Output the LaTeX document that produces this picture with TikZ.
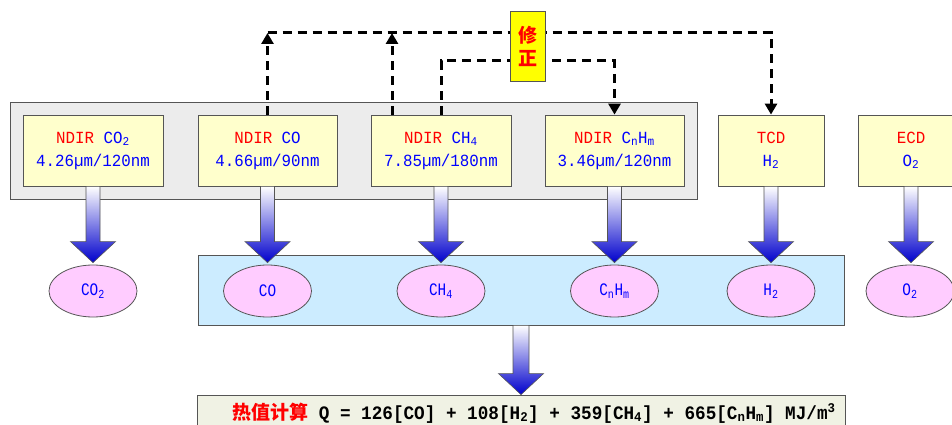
\documentclass[tikz,border=0pt]{standalone}
\usepackage{fontspec}
\setmainfont{Liberation Sans}
\newfontfamily\mono[FakeStretch=0.93]{Liberation Mono}
\newfontfamily\monon[FakeStretch=0.82]{Liberation Mono}
\newfontfamily\cjk{Noto Sans CJK SC}
\usetikzlibrary{arrows.meta,calc,shapes.geometric}
\definecolor{boxyellow}{RGB}{255,255,204}
\definecolor{panelgray}{RGB}{236,236,236}
\definecolor{lightblue}{RGB}{204,236,255}
\definecolor{pinkfill}{RGB}{255,204,255}
\definecolor{bottomfill}{RGB}{240,242,228}
\definecolor{arrowblue}{RGB}{0,0,204}
\definecolor{edgegray}{RGB}{85,85,85}
\definecolor{txtblue}{RGB}{0,0,255}
\definecolor{txtred}{RGB}{255,0,0}
\definecolor{fixyellow}{RGB}{255,255,0}
\newcommand\lowidx[1]{\textsubscript{#1}}
% #1 half shaft width, #2 from node, #3 to node, #4 gap above target
\newcommand\fatarrow[4]{%
  \path[draw=edgegray, line width=0.6pt, top color=white, bottom color=arrowblue]
    let \p1=(#2.south), \p2=(#3.north) in
    (\x1-#1pt,\y1) -- (\x1-#1pt,\y2+#4pt+21pt) -- (\x1-22.5pt,\y2+#4pt+21pt)
    -- (\x1,\y2+#4pt) -- (\x1+22.5pt,\y2+#4pt+21pt) -- (\x1+#1pt,\y2+#4pt+21pt)
    -- (\x1+#1pt,\y1) -- cycle;}
\begin{document}
\begin{tikzpicture}[x=1pt,y=-1pt,
  panel/.style={draw=edgegray, line width=0.8pt, inner sep=0pt},
  ybox/.style={draw=edgegray, line width=0.8pt, fill=boxyellow, minimum height=71pt,
    inner sep=0pt, align=center, text=txtblue, font=\mono\fontsize{17}{23}\selectfont},
  gas/.style={ellipse, draw=edgegray, line width=0.8pt, fill=pinkfill, minimum width=88pt,
    minimum height=52pt, inner sep=0pt, text=txtblue, font=\monon\fontsize{17.5}{17.5}\selectfont},
  corr/.style={draw=black, line width=3pt, dash pattern=on 9pt off 6pt},
  corrtip/.style={-{Triangle[width=12pt,length=11pt]}}
]
\useasboundingbox (0,0) rectangle (952,425);
\fill[white] (0,0) rectangle (952,425);

% panels
\node[panel, fill=panelgray, minimum width=687pt, minimum height=97pt] (panel) at (353.5,150.5) {};
\node[panel, fill=lightblue, minimum width=646pt, minimum height=70pt] (lb) at (521,290) {};
\node[panel, fill=bottomfill, minimum width=648pt, minimum height=50pt] (bottom) at (521,420) {};

% detector boxes
\node[ybox, minimum width=140pt] (b1) at (93,150.5) {\textcolor{txtred}{NDIR} CO\lowidx{2}\\4.26µm/120nm};
\node[ybox, minimum width=139pt] (b2) at (267.5,150.5) {\textcolor{txtred}{NDIR} CO\\4.66µm/90nm};
\node[ybox, minimum width=140pt] (b3) at (441,150.5) {\textcolor{txtred}{NDIR} CH\lowidx{4}\\7.85µm/180nm};
\node[ybox, minimum width=139pt] (b4) at (614.5,150.5) {\textcolor{txtred}{NDIR} C\lowidx{n}H\lowidx{m}\\3.46µm/120nm};
\node[ybox, minimum width=106pt] (b5) at (771,150.5) {\textcolor{txtred}{TCD}\\H\lowidx{2}};
\node[ybox, minimum width=106pt] (b6) at (911,150.5) {\textcolor{txtred}{ECD}\\O\lowidx{2}};

% gas ellipses
\node[gas] (e1) at (93,291) {CO\lowidx{2}};
\node[gas] (e2) at (267.5,291) {CO};
\node[gas] (e3) at (441,291) {CH\lowidx{4}};
\node[gas] (e4) at (614.5,291) {C\lowidx{n}H\lowidx{m}};
\node[gas] (e5) at (771,291) {H\lowidx{2}};
\node[gas] (e6) at (910,291) {O\lowidx{2}};

% fat arrows
\fatarrow{7}{b1}{e1}{2}
\fatarrow{7}{b2}{e2}{2}
\fatarrow{7}{b3}{e3}{2}
\fatarrow{7}{b4}{e4}{2}
\fatarrow{7}{b5}{e5}{2}
\fatarrow{7}{b6}{e6}{2}
\fatarrow{8}{lb}{bottom}{0}

% correction loops
\coordinate (topline) at (0,33);
\coordinate (midline) at (0,61);
\draw[corr, corrtip] (b2.north) -- (b2.north |- topline);
\draw[corr, corrtip] ($(b3.north)+(-49,0)$) -- ($(b3.north |- topline)+(-49,0)$);
\draw[corr, corrtip] (b2.north |- topline) -- (b5.north |- topline) -- (b5.north);
\draw[corr, corrtip] (b3.north) -- (b3.north |- midline) -- (b4.north |- midline) -- (b4.north);
\node[draw=edgegray, line width=0.8pt, fill=fixyellow, minimum width=35pt, minimum height=70pt,
  inner sep=0pt, align=center, text=txtred, font=\cjk\bfseries\fontsize{19}{23}\selectfont]
  (fix) at (527.5,46) {修\\正};

% formula
\node[anchor=base west, inner sep=0pt, font=\mono\bfseries\fontsize{19}{20}\selectfont] (formula) at (232,419)
  {\textcolor{txtred}{\cjk\bfseries\fontsize{19}{20}\selectfont 热值计算} Q = 126[CO] + 108[H\lowidx{2}] + 359[CH\lowidx{4}] + 665[C\lowidx{n}H\lowidx{m}] MJ/m\textsuperscript{3}};
\end{tikzpicture}
\end{document}
